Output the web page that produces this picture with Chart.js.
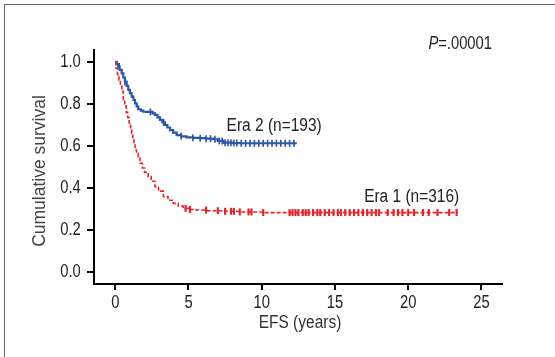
<!DOCTYPE html>
<html>
<head>
<meta charset="utf-8">
<script src="https://cdn.jsdelivr.net/npm/chart.js@4/dist/chart.umd.min.js"></script>
<style>
html,body{margin:0;padding:0;background:#fff;width:555px;height:357px;overflow:hidden;}
#wrap{position:absolute;left:0;top:0;width:555px;height:357px;}
#frame{position:absolute;left:4px;top:4px;width:600px;height:400px;border-left:1.5px solid #666;border-top:1.5px solid #666;}
</style>
</head>
<body>
<div id="frame"></div>
<div id="wrap"><canvas id="c" width="555" height="357"></canvas></div>
<script>
// ---- data ----
const era2Times = [0, 0.1, 0.2, 0.3, 0.44, 0.55, 0.66, 0.78, 0.89, 1.0, 1.12, 1.24, 1.35, 1.46, 1.57, 1.75, 1.91, 2.1, 2.37, 2.55, 2.71, 2.88, 3.05, 3.22, 3.39, 3.56, 3.74, 3.95, 4.19, 4.5, 4.87, 5.3, 5.79, 6.2, 6.69, 7.0, 7.38, 8.0, 8.52, 12.4];
const era2Surv  = [1.0, 0.99, 0.978, 0.962, 0.946, 0.926, 0.906, 0.886, 0.867, 0.851, 0.835, 0.819, 0.803, 0.789, 0.775, 0.768, 0.763, 0.762, 0.762, 0.755, 0.748, 0.736, 0.724, 0.712, 0.70, 0.688, 0.676, 0.664, 0.652, 0.646, 0.641, 0.639, 0.637, 0.635, 0.632, 0.624, 0.616, 0.614, 0.613, 0.613];
const era1Times = [0, 0.05, 0.15, 0.25, 0.35, 0.45, 0.55, 0.65, 0.75, 0.85, 0.95, 1.05, 1.12, 1.2, 1.28, 1.35, 1.45, 1.57, 1.69, 1.85, 2.0, 2.25, 2.45, 2.71, 2.95, 3.28, 3.6, 3.96, 4.3, 4.64, 5.0, 5.5, 6.24, 7.5, 8.5, 10.1, 23.4];
const era1Surv  = [1.0, 0.97, 0.94, 0.915, 0.89, 0.86, 0.82, 0.79, 0.76, 0.735, 0.71, 0.68, 0.66, 0.635, 0.61, 0.581, 0.565, 0.549, 0.518, 0.495, 0.475, 0.454, 0.432, 0.406, 0.385, 0.359, 0.342, 0.327, 0.314, 0.303, 0.298, 0.295, 0.292, 0.289, 0.286, 0.283, 0.283];
const era2Censored = [0.27, 0.66, 2.4, 3.3, 4.5, 5.3, 5.8, 6.2, 6.5, 6.8, 7.1, 7.3, 7.5, 7.7, 7.9, 8.1, 8.3, 8.6, 8.9, 9.2, 9.5, 9.8, 10.1, 10.4, 10.7, 11.0, 11.3, 11.6, 11.9, 12.2];
const era1Censored = [4.8, 5.1, 6.2, 7.0, 7.5, 7.9, 8.1, 8.5, 9.1, 9.3, 10.1, 11.9, 12.1, 12.3, 12.5, 12.8, 13.0, 13.2, 13.5, 13.8, 14.0, 14.3, 14.6, 14.9, 15.2, 15.4, 15.7, 16.0, 16.3, 16.6, 16.9, 17.2, 17.5, 17.8, 18.0, 18.6, 19.0, 19.3, 19.6, 20.0, 20.4, 21.0, 21.4, 22.0, 22.8, 23.3];
const xTicks = [0, 5, 10, 15, 20, 25];
const yTicks = [0, 0.2, 0.4, 0.6, 0.8, 1.0];
const seriesLabels = ['Era 2 (n=193)', 'Era 1 (n=316)'];
const pValueText = '.00001';

// ---- helpers ----
function pts(ts, ss){ return ts.map((t,i)=>({x:t,y:ss[i]})); }
function survAt(ts, ss, t){ let v = ss[0]; for (let i=0;i<ts.length;i++){ if (ts[i] <= t) v = ss[i]; } return v; }
function censorPts(cs, ts, ss){ return cs.map(t=>({x:t,y:survAt(ts,ss,t)})); }

const BLUE = '#2d55a8';
const RED = '#e2252c';
const SANS = "'Liberation Sans', Arial, sans-serif";

function narrowText(ctx, text, x, y, align, size, sx, italic){
  ctx.save();
  ctx.translate(x, y);
  ctx.scale(sx, 1);
  ctx.font = (italic ? 'italic ' : '') + size + 'px ' + SANS;
  ctx.textAlign = align;
  ctx.textBaseline = 'middle';
  ctx.fillText(text, 0, 0);
  ctx.restore();
}

const textPlugin = {
  id: 'texts',
  afterDraw(chart){
    const ctx = chart.ctx;
    const xs = chart.scales.x, ys = chart.scales.y;
    ctx.save();
    ctx.fillStyle = '#222';
    // tick labels (positions from library scales)
    xTicks.forEach(v => narrowText(ctx, String(v), xs.getPixelForValue(v), 303.5, 'center', 18, 0.82));
    yTicks.forEach(v => narrowText(ctx, v.toFixed(1), 80.7, ys.getPixelForValue(v), 'right', 18, 0.82));
    // series labels
    narrowText(ctx, seriesLabels[0], xs.getPixelForValue(7.6), ys.getPixelForValue(0.696), 'left', 18, 0.86);
    narrowText(ctx, seriesLabels[1], xs.getPixelForValue(16.99), ys.getPixelForValue(0.359), 'left', 18, 0.86);
    // P value
    ctx.font = '18px ' + SANS;
    const restW = ctx.measureText('=' + pValueText).width * 0.82;
    ctx.font = 'italic 18px ' + SANS;
    const pW = ctx.measureText('P').width * 0.82;
    const endX = 492;
    narrowText(ctx, 'P', endX - restW - pW, 44, 'left', 18, 0.82, true);
    narrowText(ctx, '=' + pValueText, endX - restW, 44, 'left', 18, 0.82);
    // axis titles
    ctx.fillStyle = '#333';
    narrowText(ctx, 'EFS (years)', 300, 323, 'center', 18, 0.86);
    ctx.translate(40, 171);
    ctx.rotate(-Math.PI/2);
    ctx.font = "17.5px " + SANS;
    ctx.fillStyle = '#444';
    ctx.textAlign = 'center';
    ctx.textBaseline = 'middle';
    ctx.fillText('Cumulative survival', 0, 0);
    ctx.restore();
  }
};

new Chart(document.getElementById('c'), {
  type: 'scatter',
  data: {
    datasets: [
      { label: seriesLabels[1], data: pts(era1Times, era1Surv), showLine: true, stepped: 'before',
        borderColor: RED, borderWidth: 1.6, borderDash: [4, 2], pointRadius: 0, fill: false },
      { label: seriesLabels[0], data: pts(era2Times, era2Surv), showLine: true, stepped: 'before',
        borderColor: BLUE, borderWidth: 2.2, pointRadius: 0, fill: false },
      { label: 'c1', data: censorPts(era1Censored, era1Times, era1Surv), showLine: false,
        pointStyle: 'line', rotation: 90, pointRadius: 3.5, borderColor: RED, backgroundColor: RED, borderWidth: 2.2 },
      { label: 'c2', data: censorPts(era2Censored, era2Times, era2Surv), showLine: false,
        pointStyle: 'line', rotation: 90, pointRadius: 3.5, borderColor: BLUE, backgroundColor: BLUE, borderWidth: 1.6 }
    ]
  },
  options: {
    responsive: false,
    animation: false,
    events: [],
    layout: { padding: { left: 0, top: 50, right: 53, bottom: 0 } },
    plugins: { legend: { display: false }, tooltip: { enabled: false } },
    scales: {
      x: {
        type: 'linear', min: -1.45, max: 26.4,
        afterFit(s){ s.height = 73; },
        afterBuildTicks(s){ s.ticks = xTicks.map(v=>({value:v})); },
        border: { display: true, color: '#000', width: 2 },
        grid: { display: true, drawOnChartArea: false, drawTicks: true, tickLength: 6, color: '#000', lineWidth: 2 },
        ticks: { display: false }
      },
      y: {
        type: 'linear', min: -0.057, max: 1.057,
        afterFit(s){ s.width = 94; },
        afterBuildTicks(s){ s.ticks = yTicks.map(v=>({value:v})); },
        border: { display: true, color: '#000', width: 2 },
        grid: { display: true, drawOnChartArea: false, drawTicks: true, tickLength: 7, color: '#000', lineWidth: 2 },
        ticks: { display: false }
      }
    }
  },
  plugins: [textPlugin]
});
</script>
</body>
</html>
